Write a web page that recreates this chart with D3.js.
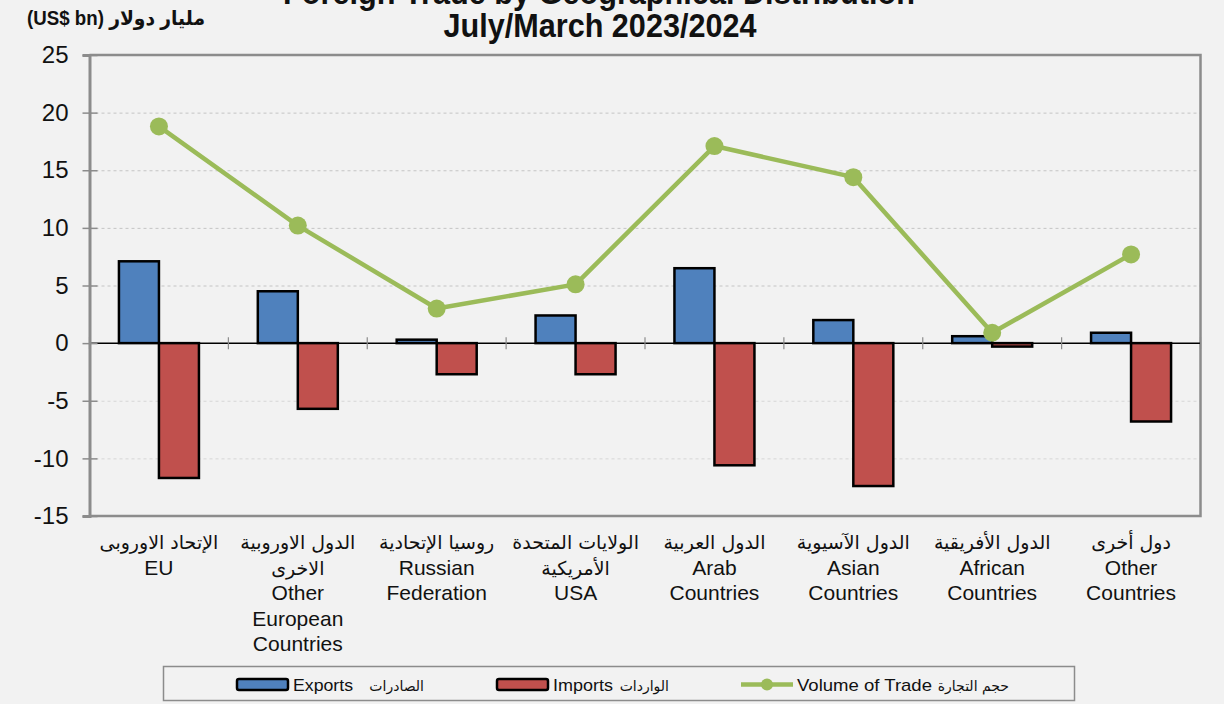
<!DOCTYPE html>
<html>
<head>
<meta charset="utf-8">
<script src="https://cdn.jsdelivr.net/npm/d3@7/dist/d3.min.js"></script>
<style>
  html, body { margin: 0; padding: 0; background: #f2f2f2; }
  svg { display: block; }
  text { font-family: "Liberation Sans", Arial, "DejaVu Sans", sans-serif; fill: #111; }
</style>
</head>
<body>
<svg id="chart" width="1224" height="704"></svg>
<script>
// ---- data ----
const categoriesAr = [
  ["الإتحاد الاوروبى"],
  ["الدول الاوروبية", "الاخرى"],
  ["روسيا الإتحادية"],
  ["الولايات المتحدة", "الأمريكية"],
  ["الدول العربية"],
  ["الدول الآسيوية"],
  ["الدول الأفريقية"],
  ["دول أخرى"]
];
const categoriesEn = [
  ["EU"],
  ["Other", "European", "Countries"],
  ["Russian", "Federation"],
  ["USA"],
  ["Arab", "Countries"],
  ["Asian", "Countries"],
  ["African", "Countries"],
  ["Other", "Countries"]
];
const exportsVal = [7.1, 4.5, 0.3, 2.4, 6.5, 2.0, 0.6, 0.9];
const importsVal = [-11.7, -5.7, -2.7, -2.7, -10.6, -12.4, -0.3, -6.8];
const volumeVal  = [18.8, 10.2, 3.0, 5.1, 17.1, 14.4, 0.9, 7.7];
const yTicks = [-15, -10, -5, 0, 5, 10, 15, 20, 25];
const gridTicks = [-10, -5, 5, 10, 15, 20];
const titleLines = ["Foreign Trade by Geographical Distribution", "July/March 2023/2024"];
const unitLabel = "(US$ bn) مليار دولار";
const legendEn = ["Exports", "Imports", "Volume of Trade"];
const legendAr = ["الصادرات", "الواردات", "حجم التجارة"];

// ---- layout ----
const svg = d3.select("#chart");
const L = 89.5, R = 1200.5, T = 55, B = 516;
const ids = d3.range(categoriesEn.length);
const x = d3.scaleBand().domain(ids).range([L, R]).padding(0);
const y = d3.scaleLinear().domain([-15, 25]).range([B, T]);
const bw = x.bandwidth();
const xs = d3.scaleBand().domain(["exp", "imp"]).range([bw / 2 - 40, bw / 2 + 40]);

const COL_EXP = "#4f81bd", COL_IMP = "#c0504d", COL_VOL = "#9bbb59", GRAY = "#8c8c8c";

// gridlines
svg.append("g")
  .attr("transform", `translate(${L},0)`)
  .call(d3.axisLeft(y).tickValues(gridTicks).tickSize(-(R - L)).tickFormat(""))
  .call(g => g.select(".domain").remove())
  .call(g => g.selectAll(".tick line")
    .attr("stroke", d => d > 0 ? "#c4c4c4" : "#d6d6d6")
    .attr("stroke-dasharray", "3,3"));

// plot border (top, right, bottom)
svg.append("path")
  .attr("d", `M${L},${T}H${R}V${B}H${L}`)
  .attr("fill", "none").attr("stroke", GRAY).attr("stroke-width", 2.5);

// bars
const gBars = svg.append("g");
ids.forEach(i => {
  [["exp", exportsVal[i], COL_EXP], ["imp", importsVal[i], COL_IMP]].forEach(([k, v, c]) => {
    gBars.append("rect")
      .attr("x", x(i) + xs(k))
      .attr("width", xs.bandwidth())
      .attr("y", y(Math.max(0, v)))
      .attr("height", Math.abs(y(v) - y(0)))
      .attr("fill", c)
      .attr("stroke", "#000")
      .attr("stroke-width", 2.5);
  });
});

// zero line
svg.append("line")
  .attr("x1", L).attr("x2", R).attr("y1", y(0)).attr("y2", y(0))
  .attr("stroke", "#000").attr("stroke-width", 1.5);

// category boundary ticks
svg.append("g").selectAll("line")
  .data(d3.range(categoriesEn.length + 1))
  .join("line")
  .attr("x1", d => L + d * x.step()).attr("x2", d => L + d * x.step())
  .attr("y1", y(0) - 6).attr("y2", y(0) + 6)
  .attr("stroke", GRAY).attr("stroke-width", 1.2);

// y axis
const yAxis = svg.append("g")
  .attr("transform", `translate(${L},0)`)
  .call(d3.axisLeft(y).tickValues(yTicks).tickSize(7).tickPadding(14).tickFormat(d => String(d)));
yAxis.select(".domain").attr("stroke", GRAY).attr("stroke-width", 3);
yAxis.selectAll(".tick line").attr("stroke", GRAY).attr("stroke-width", 1.5).attr("x1", 8);
yAxis.selectAll(".tick text")
  .style("font-family", '"Liberation Sans", Arial, sans-serif')
  .style("font-size", "24px").attr("fill", "#111");

// volume line
const cx = i => x(i) + xs("imp");
svg.append("path")
  .datum(volumeVal)
  .attr("d", d3.line().x((d, i) => cx(i)).y(d => y(d)))
  .attr("fill", "none").attr("stroke", COL_VOL).attr("stroke-width", 4.5)
  .attr("stroke-linejoin", "round");
svg.append("g").selectAll("circle")
  .data(volumeVal)
  .join("circle")
  .attr("cx", (d, i) => cx(i)).attr("cy", d => y(d)).attr("r", 9)
  .attr("fill", COL_VOL);

// category labels
const lineH = 25.5, firstBase = 549;
ids.forEach(i => {
  const lines = categoriesAr[i].map(t => ({t, ar: true})).concat(categoriesEn[i].map(t => ({t, ar: false})));
  const g = svg.append("g");
  lines.forEach((ln, j) => {
    g.append("text")
      .attr("x", x(i) + bw / 2)
      .attr("y", firstBase + j * lineH)
      .attr("text-anchor", "middle")
      .style("font-size", ln.ar ? "19px" : "21px")
      .style("font-family", ln.ar ? '"DejaVu Sans", "Liberation Sans", sans-serif' : '"Liberation Sans", Arial, sans-serif')
      .text(ln.t);
  });
});

// titles
svg.append("text")
  .attr("x", 599).attr("y", 4).attr("text-anchor", "middle")
  .attr("textLength", 632).attr("lengthAdjust", "spacingAndGlyphs")
  .style("font-family", '"Liberation Sans Narrow", "Liberation Sans", Arial, sans-serif')
  .style("font-size", "33px").style("font-weight", "bold")
  .text(titleLines[0]);
svg.append("text")
  .attr("x", 600).attr("y", 37).attr("text-anchor", "middle")
  .attr("textLength", 313).attr("lengthAdjust", "spacingAndGlyphs")
  .style("font-family", '"Liberation Sans Narrow", "Liberation Sans", Arial, sans-serif')
  .style("font-size", "33px").style("font-weight", "bold")
  .text(titleLines[1]);

// unit label
svg.append("text")
  .attr("x", 27).attr("y", 25)
  .style("font-family", '"Liberation Sans Narrow", "Liberation Sans", "DejaVu Sans", sans-serif')
  .style("font-size", "20px").style("font-weight", "bold")
  .attr("textLength", 178).attr("lengthAdjust", "spacingAndGlyphs")
  .text(unitLabel);

// legend
const lg = svg.append("g");
lg.append("rect")
  .attr("x", 163.5).attr("y", 666.5).attr("width", 911).attr("height", 34)
  .attr("fill", "#f2f2f2").attr("stroke", GRAY).attr("stroke-width", 1.5);
const legendItems = [
  {type: "bar", color: COL_EXP, sx: 237, tx: 293, tw: 60, ax: 364, aw: 60},
  {type: "bar", color: COL_IMP, sx: 497, tx: 553, tw: 60, ax: 623, aw: 46},
  {type: "line", color: COL_VOL, sx: 741, tx: 797, tw: 135, ax: 940, aw: 69}
];
legendItems.forEach((it, k) => {
  if (it.type === "bar") {
    lg.append("rect")
      .attr("x", it.sx).attr("y", 679).attr("width", 51).attr("height", 11)
      .attr("rx", 2).attr("fill", it.color).attr("stroke", "#000").attr("stroke-width", 2.5);
  } else {
    lg.append("line")
      .attr("x1", it.sx).attr("x2", it.sx + 52).attr("y1", 684.5).attr("y2", 684.5)
      .attr("stroke", it.color).attr("stroke-width", 4.5);
    lg.append("circle").attr("cx", it.sx + 26).attr("cy", 684.5).attr("r", 6).attr("fill", it.color);
  }
  lg.append("text")
    .attr("x", it.tx).attr("y", 690.5)
    .attr("textLength", it.tw).attr("lengthAdjust", "spacingAndGlyphs")
    .style("font-size", "17px")
    .text(legendEn[k]);
  lg.append("text")
    .attr("x", it.ax + it.aw).attr("y", 690.5)
    .attr("text-anchor", "end")
    .style("font-family", '"DejaVu Sans", sans-serif')
    .style("font-size", "14px")
    .text(legendAr[k]);
});
</script>
</body>
</html>
